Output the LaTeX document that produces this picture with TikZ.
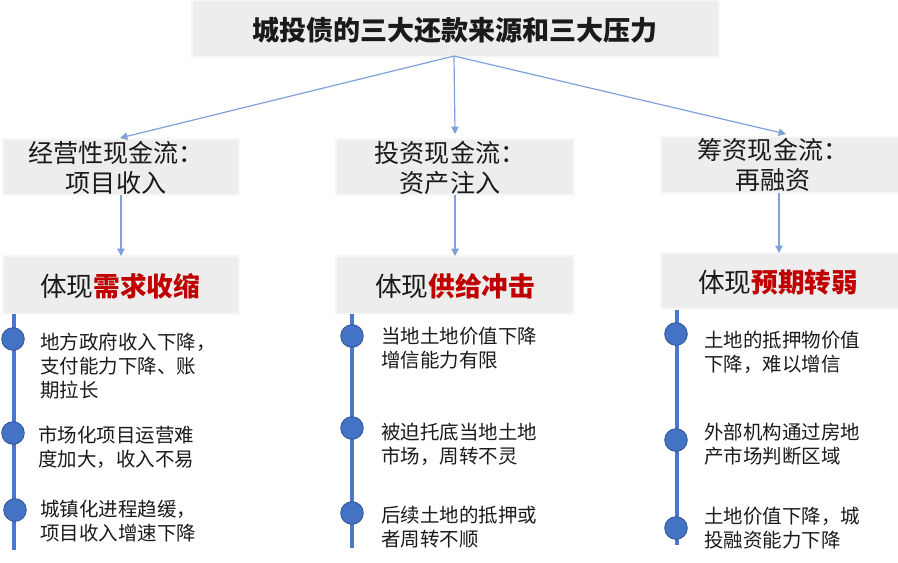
\documentclass[tikz,border=0pt]{standalone}
\usepackage{fontspec}
\setmainfont{Noto Sans CJK SC}
\usetikzlibrary{arrows.meta}
\definecolor{boxfill}{HTML}{EDEDED}
\definecolor{boxline}{HTML}{F7F7F7}
\definecolor{arrowblue}{HTML}{7FA1DB}
\definecolor{lineblue}{HTML}{4A78CC}
\definecolor{dotblue}{HTML}{4472C4}
\definecolor{dotedge}{HTML}{2F5597}
\definecolor{redtxt}{HTML}{C00000}
\definecolor{txt}{HTML}{1A1A1A}
\tikzset{
  greybox/.style={draw=boxline, line width=1.2pt, fill=boxfill, inner sep=0pt, outer sep=0pt},
  conn/.style={draw=arrowblue, line width=0.9pt, -{Triangle[width=5.5pt,length=5.5pt]}},
  tline/.style={draw=lineblue, line width=2.6pt},
  tdot/.style={circle, fill=dotblue, draw=dotedge, line width=0.6pt, minimum size=17pt, inner sep=0pt},
  bullet/.style={anchor=north west, align=left, inner sep=0pt, font=\fontsize{14.6pt}{18pt}\selectfont, text=txt},
  headtxt/.style={align=center, inner sep=0pt, font=\fontsize{18.8pt}{22.5pt}\selectfont, text=txt},
  keytxt/.style={inner sep=0pt, font=\fontsize{20pt}{22pt}\selectfont, text=txt}
}
\begin{document}
\begin{tikzpicture}[x=0.75pt,y=-0.75pt]
\useasboundingbox (0,0) rectangle (898,562);
% title
\node[greybox, minimum width=527*0.75pt, minimum height=57*0.75pt] (title) at (455.5,28.5) {};
\node[inner sep=0pt, font=\fontsize{20.3pt}{22pt}\selectfont\bfseries, text=txt] (titletxt) at (455,30) {城投债的三大还款来源和三大压力};
\coordinate (src) at (454,56);
% level 1 boxes
\node[greybox, minimum width=236*0.75pt, minimum height=56*0.75pt] (b1) at (121,167) {};
\node[greybox, minimum width=238*0.75pt, minimum height=56*0.75pt] (b2) at (455,167) {};
\node[greybox, minimum width=238*0.75pt, minimum height=56*0.75pt] (b3) at (780,165) {};
\node[headtxt] (b1t) at (116,168) {经营性现金流：\\项目收入};
\node[headtxt] (b2t) at (450,168) {投资现金流：\\资产注入};
\node[headtxt] (b3t) at (773,165) {筹资现金流：\\再融资};
% level 2 boxes
\node[greybox, minimum width=236*0.75pt, minimum height=58*0.75pt] (k1) at (121,285) {};
\node[greybox, minimum width=238*0.75pt, minimum height=58*0.75pt] (k2) at (455,285) {};
\node[greybox, minimum width=238*0.75pt, minimum height=56*0.75pt] (k3) at (780,281) {};
\node[keytxt] (k1t) at (120,286) {体现{\bfseries\color{redtxt}需求收缩}};
\node[keytxt] (k2t) at (455,286) {体现{\bfseries\color{redtxt}供给冲击}};
\node[keytxt] (k3t) at (778,282) {体现{\bfseries\color{redtxt}预期转弱}};
% connectors
\coordinate (e1) at (120,138);
\coordinate (e2) at (455,134);
\coordinate (e3) at (786,134);
\draw[conn] (src) -- (e1);
\draw[conn] (src) -- (e2);
\draw[conn] (src) -- (e3);
\draw[conn] (b1.south -| 121,0) -- (k1.north -| 121,0);
\draw[conn] (b2.south) -- (k2.north);
\draw[conn] (b3.south -| 779,0) -- (k3.north -| 779,0);
% timelines
\coordinate (t1a) at (14,314); \coordinate (t1b) at (14,550);
\coordinate (t2a) at (352,314); \coordinate (t2b) at (352,548);
\coordinate (t3a) at (677,310); \coordinate (t3b) at (677,545);
\draw[tline] (t1a) -- (t1b);
\draw[tline] (t2a) -- (t2b);
\draw[tline] (t3a) -- (t3b);
\node[tdot] (d11) at (13,339) {};
\node[tdot] (d12) at (13,433) {};
\node[tdot] (d13) at (15,510) {};
\node[tdot] (d21) at (352,336) {};
\node[tdot] (d22) at (352,428) {};
\node[tdot] (d23) at (352,513) {};
\node[tdot] (d31) at (676,334) {};
\node[tdot] (d32) at (676,440) {};
\node[tdot] (d33) at (676,528) {};
% bullet texts
\node[bullet] (x11) at (40,333) {地方政府收入下降，\\支付能力下降、账\\期拉长};
\node[bullet] (x12) at (38,426) {市场化项目运营难\\度加大，收入不易};
\node[bullet] (x13) at (40,500) {城镇化进程趋缓，\\项目收入增速下降};
\node[bullet] (x21) at (381,327) {当地土地价值下降\\增信能力有限};
\node[bullet] (x22) at (381,423) {被迫托底当地土地\\市场，周转不灵};
\node[bullet] (x23) at (381,506) {后续土地的抵押或\\者周转不顺};
\node[bullet] (x31) at (704,331) {土地的抵押物价值\\下降，难以增信};
\node[bullet] (x32) at (704,423) {外部机构通过房地\\产市场判断区域};
\node[bullet] (x33) at (704,507) {土地价值下降，城\\投融资能力下降};
\end{tikzpicture}
\end{document}
